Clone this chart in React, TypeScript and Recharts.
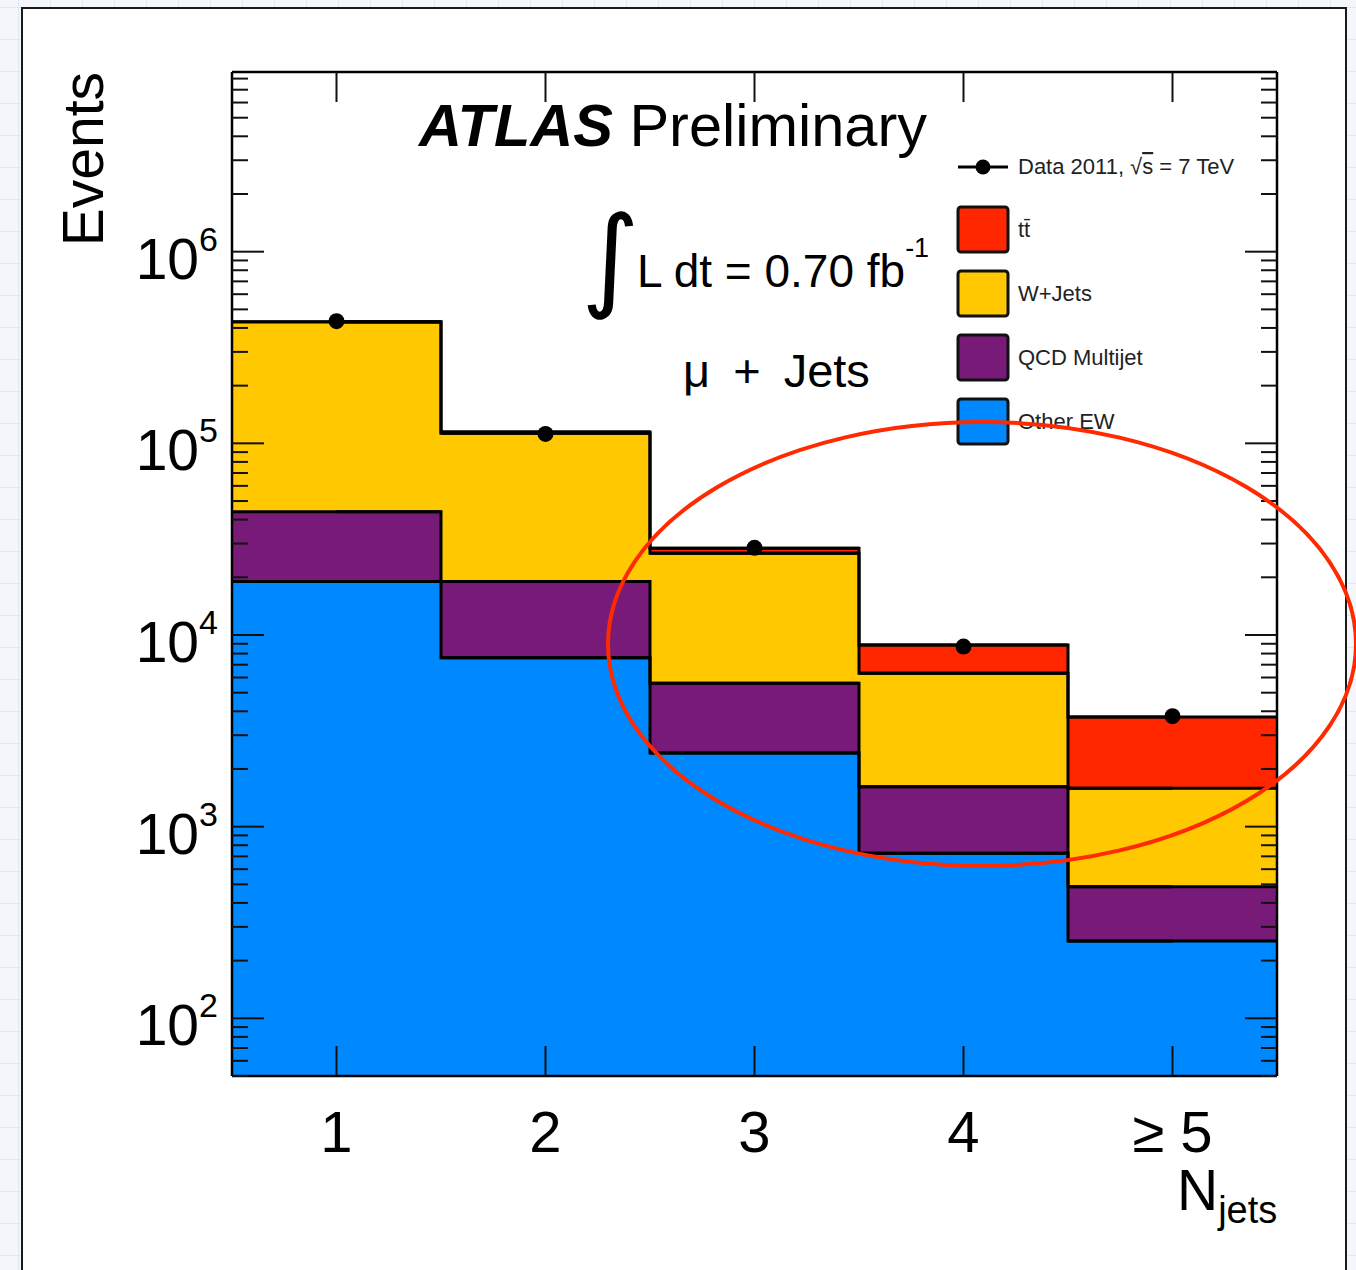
import React from 'react';
import { ComposedChart, Bar, Line, XAxis, YAxis } from 'recharts';

// N_jets bins and per-process yields
const categories = ['1', '2', '3', '4', '≥ 5'];
const otherEW = [19000, 7600, 2420, 726, 253];
const qcdMultijet = [25000, 11400, 3180, 890, 233];
const wJets = [386000, 94000, 21100, 4700, 1100];
const ttbar = [1200, 1500, 1640, 2560, 2150];
const data2011 = [434000, 112000, 28500, 8700, 3770];

const yDomain = [50, 8.66e6];
const decades = [10, 100, 1000, 10000, 100000, 1000000];
const mantissas = [1, 2, 3, 4, 5, 6, 7, 8, 9];

const COLORS = {
  tt: '#ff2600',
  wj: '#ffc800',
  qcd: '#781a78',
  ew: '#0088ff',
};

const legendItems = [
  { label: 'tt\u0304', color: COLORS.tt },
  { label: 'W+Jets', color: COLORS.wj },
  { label: 'QCD Multijet', color: COLORS.qcd },
  { label: 'Other EW', color: COLORS.ew },
];

const FONT = '"Liberation Sans", Arial, Helvetica, sans-serif';

// histogram is drawn as overlapping cumulative bars
const rows = categories.map((cat, i) => {
  const ew = otherEW[i];
  const qcd = ew + qcdMultijet[i];
  const wj = qcd + wJets[i];
  const tt = wj + ttbar[i];
  return { cat, ew, qcd, wj, tt, data: data2011[i] };
});

const yTicks: number[] = [];
decades.forEach((d) =>
  mantissas.forEach((m) => {
    const v = d * m;
    if (v >= yDomain[0] && v <= yDomain[1]) yTicks.push(v);
  })
);

const isMajor = (v: number) => {
  const l = Math.log10(v);
  return Math.abs(l - Math.round(l)) < 1e-6;
};

const HistShape = (p: any) => (
  <g>
    <rect x={p.x} y={p.y} width={p.width} height={p.height} fill={p.fill} />
    <line x1={p.x} x2={p.x + p.width} y1={p.y} y2={p.y} stroke="#000" strokeWidth={3} />
  </g>
);

const LeftTick = ({ x, y, payload }: any) => {
  const major = isMajor(payload.value);
  return (
    <g>
      <line x1={x} x2={x + (major ? 32 : 16)} y1={y} y2={y} stroke="#111" strokeWidth={2} />
      {major && (
        <text x={x - 14} y={y + 27} textAnchor="end" fontFamily={FONT} fontSize={57} fill="#000">
          10
          <tspan dy={-28} fontSize={34}>
            {Math.round(Math.log10(payload.value))}
          </tspan>
        </text>
      )}
    </g>
  );
};

const RightTick = ({ x, y, payload }: any) => {
  const major = isMajor(payload.value);
  return <line x1={x} x2={x - (major ? 32 : 16)} y1={y} y2={y} stroke="#111" strokeWidth={2} />;
};

const BottomTick = ({ x, y, payload }: any) => (
  <g>
    <line x1={x} x2={x} y1={y} y2={y - 30} stroke="#111" strokeWidth={2} />
    <text x={x} y={y + 76} textAnchor="middle" fontFamily={FONT} fontSize={58} fill="#000">
      {payload.value}
    </text>
  </g>
);

const TopTick = ({ x, y }: any) => (
  <line x1={x} x2={x} y1={y} y2={y + 30} stroke="#111" strokeWidth={2} />
);

const axisLine = { stroke: '#000', strokeWidth: 2.5 };

export default function App() {
  return (
    <div
      style={{
        position: 'absolute',
        left: 0,
        top: 0,
        width: 1356,
        height: 1270,
        overflow: 'hidden',
        backgroundColor: '#f3f7fb',
        backgroundImage:
          'linear-gradient(#dfe9f3 1px, transparent 1px), linear-gradient(90deg, #dfe9f3 1px, transparent 1px)',
        backgroundSize: '32px 32px',
        backgroundPosition: '18px 7px',
      }}
    >
      <div
        style={{
          position: 'absolute',
          left: 21,
          top: 7,
          width: 1322,
          height: 1300,
          background: '#fff',
          border: '2.5px solid #1a1a1a',
        }}
      />
      <div style={{ position: 'absolute', left: 0, top: 0 }}>
        <ComposedChart
          width={1356}
          height={1270}
          data={rows}
          margin={{ top: 71, right: 78, bottom: 193, left: 231 }}
          barCategoryGap={0}
          barGap={0}
        >
          <XAxis
            xAxisId="main"
            dataKey="cat"
            height={1}
            axisLine={axisLine}
            tickLine={false}
            tickSize={0}
            tickMargin={0}
            interval={0}
            tick={(p: any) => <BottomTick {...p} />}
          />
          <XAxis
            xAxisId="top"
            dataKey="cat"
            orientation="top"
            height={1}
            axisLine={axisLine}
            tickLine={false}
            tickSize={0}
            tickMargin={0}
            interval={0}
            tick={(p: any) => <TopTick {...p} />}
          />
          <XAxis xAxisId="x2" dataKey="cat" hide />
          <XAxis xAxisId="x3" dataKey="cat" hide />
          <XAxis xAxisId="x4" dataKey="cat" hide />
          <YAxis
            yAxisId="left"
            scale="log"
            domain={yDomain}
            allowDataOverflow
            ticks={yTicks}
            interval={0}
            width={1}
            axisLine={axisLine}
            tickLine={false}
            tickSize={0}
            tickMargin={0}
            tick={(p: any) => <LeftTick {...p} />}
          />
          <YAxis
            yAxisId="right"
            orientation="right"
            scale="log"
            domain={yDomain}
            allowDataOverflow
            ticks={yTicks}
            interval={0}
            width={1}
            axisLine={axisLine}
            tickLine={false}
            tickSize={0}
            tickMargin={0}
            tick={(p: any) => <RightTick {...p} />}
          />
          <Bar xAxisId="main" yAxisId="left" dataKey="tt" fill={COLORS.tt} shape={HistShape} isAnimationActive={false} />
          <Bar xAxisId="x2" yAxisId="left" dataKey="wj" fill={COLORS.wj} shape={HistShape} isAnimationActive={false} />
          <Bar xAxisId="x3" yAxisId="left" dataKey="qcd" fill={COLORS.qcd} shape={HistShape} isAnimationActive={false} />
          <Bar xAxisId="x4" yAxisId="left" dataKey="ew" fill={COLORS.ew} shape={HistShape} isAnimationActive={false} />
          {['tt', 'wj', 'qcd', 'ew'].map((k) => (
            <Line
              key={k}
              xAxisId="main"
              yAxisId="left"
              dataKey={k}
              type="step"
              stroke="#000"
              strokeWidth={3}
              dot={false}
              activeDot={false}
              isAnimationActive={false}
            />
          ))}
          <Line
            xAxisId="main"
            yAxisId="left"
            dataKey="data"
            stroke="none"
            dot={{ r: 8, fill: '#000', stroke: 'none' }}
            activeDot={false}
            isAnimationActive={false}
          />
        </ComposedChart>
      </div>
      <svg
        width={1356}
        height={1270}
        style={{ position: 'absolute', left: 0, top: 0, pointerEvents: 'none' }}
        fontFamily={FONT}
      >
        <text transform="translate(103,72) rotate(-90)" textAnchor="end" fontSize={57} fill="#000">
          Events
        </text>
        <text x={419} y={146} fontSize={59.5} fill="#000">
          <tspan fontWeight="bold" fontStyle="italic">ATLAS</tspan>
          <tspan> Preliminary</tspan>
        </text>
        <text x={581} y={296} fontSize={112} fill="#000" fontFamily='"DejaVu Sans", sans-serif'>
          ∫
        </text>
        <text x={637} y={287} fontSize={46} fill="#000">
          L dt = 0.70 fb
          <tspan dy={-30} fontSize={27}>-1</tspan>
        </text>
        <text x={683} y={387} fontSize={47} wordSpacing={10} fill="#000">
          μ + Jets
        </text>
        <text x={1177} y={1210} fontSize={57} fill="#000">
          N<tspan dy={13} fontSize={38}>jets</tspan>
        </text>
        {/* legend */}
        <line x1={958} x2={1008} y1={167} y2={167} stroke="#000" strokeWidth={3} />
        <circle cx={983} cy={167} r={7.5} fill="#000" />
        <text x={1018} y={174} fontSize={22} fill="#222">
          Data 2011, √<tspan textDecoration="overline">s</tspan> = 7 TeV
        </text>
        {legendItems.map((it, i) => {
          const top = 207 + i * 64;
          return (
            <g key={it.label}>
              <rect x={958} y={top} width={50} height={45} rx={3} fill={it.color} stroke="#111" strokeWidth={3} />
              <text x={1018} y={top + 30} fontSize={22} fill="#222">
                {it.label}
              </text>
            </g>
          );
        })}
        <ellipse cx={982} cy={644} rx={374} ry={222} fill="none" stroke="#ff2a00" strokeWidth={4} />
      </svg>
    </div>
  );
}
